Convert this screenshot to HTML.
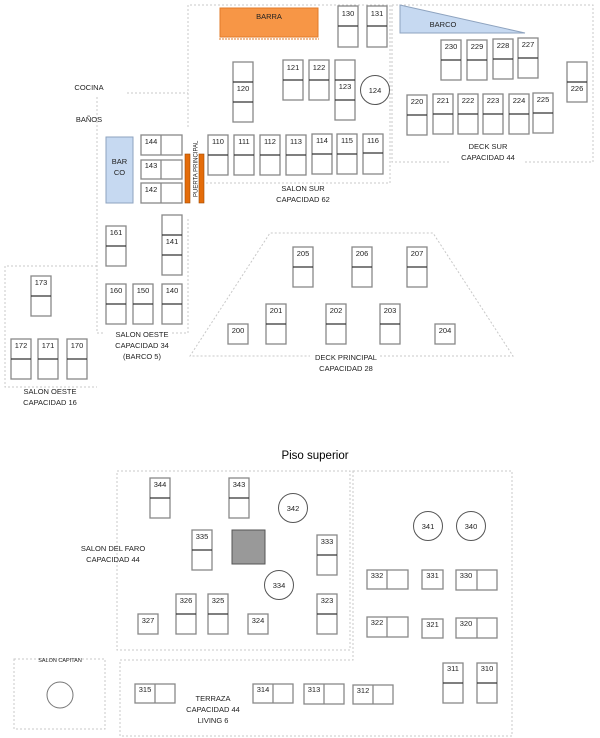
<!DOCTYPE html>
<html><head><meta charset="utf-8"><style>
html,body{margin:0;padding:0;background:#fff;}
svg{display:block;font-family:"Liberation Sans",Arial,sans-serif;}
.t{fill:none;stroke:#888;stroke-width:1.3}
.m{stroke:#333;stroke-width:1.2}
.d{fill:none;stroke:#c8c8c8;stroke-width:1;stroke-dasharray:2,2}
text{font-size:7.5px;fill:#222}
.n{text-anchor:middle}
</style></head><body>
<svg width="600" height="738" viewBox="0 0 600 738" xmlns="http://www.w3.org/2000/svg">
<path class="d" d="M188,127 V5 H390 V183 H205 M127,93 H188 M97,97 V333 H103 M172,333 H188 V217"/>
<path class="d" d="M392,5 V162 H450 M525,162 H593 V5 H392"/>
<path class="d" d="M97,266 H5 V387 H97"/>
<path class="d" d="M380,356 H513 L433,233 H270 L190,356 H310"/>
<rect x="220" y="8" width="98" height="29" fill="#f79646" stroke="#e07b2a"/>
<line x1="219" y1="39" x2="319" y2="39" stroke="#e07b2a" stroke-width="1" stroke-dasharray="2,1"/>
<text x="269" y="19" class="n">BARRA</text>
<polygon points="400,5 400,33 525,33" fill="#c6d9f1" stroke="#8ea3bf"/>
<text x="443" y="27" class="n">BARCO</text>
<rect x="106" y="137" width="27" height="66" fill="#c6d9f1" stroke="#8ea3bf"/>
<text x="119.5" y="164" class="n">BAR</text><text x="119.5" y="175" class="n">CO</text>
<rect x="185" y="154" width="5" height="49" fill="#e46c0a" stroke="#a04a00" stroke-width=".6"/>
<rect x="199" y="154" width="5" height="49" fill="#e46c0a" stroke="#a04a00" stroke-width=".6"/>
<text transform="translate(197.5,197) rotate(-90)" style="font-size:6px">PUERTA PRINCIPAL</text>

<text x="89" y="90" class="n">COCINA</text>
<text x="89" y="122" class="n">BAÑOS</text>
<text x="303" y="191" class="n">SALON SUR</text><text x="303" y="202" class="n">CAPACIDAD 62</text>
<text x="488" y="149" class="n">DECK SUR</text><text x="488" y="160" class="n">CAPACIDAD 44</text>
<text x="142" y="337" class="n">SALON OESTE</text><text x="142" y="348" class="n">CAPACIDAD 34</text><text x="142" y="359" class="n">(BARCO 5)</text>
<text x="50" y="394" class="n">SALON OESTE</text><text x="50" y="405" class="n">CAPACIDAD 16</text>
<text x="346" y="360" class="n">DECK PRINCIPAL</text><text x="346" y="371" class="n">CAPACIDAD 28</text>

<g>
<rect class="t" x="338" y="6" width="20" height="41"/><line class="m" x1="338" y1="26" x2="358" y2="26"/><text x="348" y="16" class="n">130</text>
<rect class="t" x="367" y="6" width="20" height="41"/><line class="m" x1="367" y1="26" x2="387" y2="26"/><text x="377" y="16" class="n">131</text>
<rect class="t" x="283" y="60" width="20" height="40"/><line class="m" x1="283" y1="80" x2="303" y2="80"/><text x="293" y="70" class="n">121</text>
<rect class="t" x="309" y="60" width="20" height="40"/><line class="m" x1="309" y1="80" x2="329" y2="80"/><text x="319" y="70" class="n">122</text>
<rect class="t" x="233" y="62" width="20" height="60"/><line class="m" x1="233" y1="82" x2="253" y2="82"/><line class="m" x1="233" y1="102" x2="253" y2="102"/><text x="243" y="91" class="n">120</text>
<rect class="t" x="335" y="60" width="20" height="60"/><line class="m" x1="335" y1="80" x2="355" y2="80"/><line class="m" x1="335" y1="100" x2="355" y2="100"/><text x="345" y="89" class="n">123</text>
<circle cx="375" cy="90" r="14.5" fill="none" stroke="#555"/><text x="375" y="93" class="n">124</text>

<rect class="t" x="208" y="135" width="20" height="40"/><line class="m" x1="208" y1="155" x2="228" y2="155"/><text x="218" y="144" class="n">110</text>
<rect class="t" x="234" y="135" width="20" height="40"/><line class="m" x1="234" y1="155" x2="254" y2="155"/><text x="244" y="144" class="n">111</text>
<rect class="t" x="260" y="135" width="20" height="40"/><line class="m" x1="260" y1="155" x2="280" y2="155"/><text x="270" y="144" class="n">112</text>
<rect class="t" x="286" y="135" width="20" height="40"/><line class="m" x1="286" y1="155" x2="306" y2="155"/><text x="296" y="144" class="n">113</text>
<rect class="t" x="312" y="134" width="20" height="40"/><line class="m" x1="312" y1="154" x2="332" y2="154"/><text x="322" y="143" class="n">114</text>
<rect class="t" x="337" y="134" width="20" height="40"/><line class="m" x1="337" y1="154" x2="357" y2="154"/><text x="347" y="143" class="n">115</text>
<rect class="t" x="363" y="134" width="20" height="40"/><line class="m" x1="363" y1="153" x2="383" y2="153"/><text x="373" y="143" class="n">116</text>

<rect class="t" x="141" y="135" width="41" height="20"/><line class="t" x1="161" y1="135" x2="161" y2="155"/><text x="151" y="144" class="n">144</text>
<rect class="t" x="141" y="160" width="41" height="19"/><line class="t" x1="161" y1="160" x2="161" y2="179"/><text x="151" y="168" class="n">143</text>
<rect class="t" x="141" y="183" width="41" height="20"/><line class="t" x1="161" y1="183" x2="161" y2="203"/><text x="151" y="192" class="n">142</text>

<rect class="t" x="441" y="40" width="20" height="40"/><line class="m" x1="441" y1="60" x2="461" y2="60"/><text x="451" y="49" class="n">230</text>
<rect class="t" x="467" y="40" width="20" height="40"/><line class="m" x1="467" y1="60" x2="487" y2="60"/><text x="477" y="49" class="n">229</text>
<rect class="t" x="493" y="39" width="20" height="40"/><line class="m" x1="493" y1="59" x2="513" y2="59"/><text x="503" y="48" class="n">228</text>
<rect class="t" x="518" y="38" width="20" height="40"/><line class="m" x1="518" y1="58" x2="538" y2="58"/><text x="528" y="47" class="n">227</text>
<rect class="t" x="567" y="62" width="20" height="40"/><line class="m" x1="567" y1="82" x2="587" y2="82"/><text x="577" y="91" class="n">226</text>
<rect class="t" x="407" y="95" width="20" height="40"/><line class="m" x1="407" y1="115" x2="427" y2="115"/><text x="417" y="104" class="n">220</text>
<rect class="t" x="433" y="94" width="20" height="40"/><line class="m" x1="433" y1="114" x2="453" y2="114"/><text x="443" y="103" class="n">221</text>
<rect class="t" x="458" y="94" width="20" height="40"/><line class="m" x1="458" y1="114" x2="478" y2="114"/><text x="468" y="103" class="n">222</text>
<rect class="t" x="483" y="94" width="20" height="40"/><line class="m" x1="483" y1="114" x2="503" y2="114"/><text x="493" y="103" class="n">223</text>
<rect class="t" x="509" y="94" width="20" height="40"/><line class="m" x1="509" y1="114" x2="529" y2="114"/><text x="519" y="103" class="n">224</text>
<rect class="t" x="533" y="93" width="20" height="40"/><line class="m" x1="533" y1="113" x2="553" y2="113"/><text x="543" y="102" class="n">225</text>

<rect class="t" x="106" y="226" width="20" height="40"/><line class="m" x1="106" y1="246" x2="126" y2="246"/><text x="116" y="235" class="n">161</text>
<rect class="t" x="162" y="215" width="20" height="60"/><line class="m" x1="162" y1="235" x2="182" y2="235"/><line class="m" x1="162" y1="255" x2="182" y2="255"/><text x="172" y="244" class="n">141</text>
<rect class="t" x="106" y="284" width="20" height="40"/><line class="m" x1="106" y1="304" x2="126" y2="304"/><text x="116" y="293" class="n">160</text>
<rect class="t" x="133" y="284" width="20" height="40"/><line class="m" x1="133" y1="304" x2="153" y2="304"/><text x="143" y="293" class="n">150</text>
<rect class="t" x="162" y="284" width="20" height="40"/><line class="m" x1="162" y1="304" x2="182" y2="304"/><text x="172" y="293" class="n">140</text>
<rect class="t" x="31" y="276" width="20" height="40"/><line class="m" x1="31" y1="296" x2="51" y2="296"/><text x="41" y="285" class="n">173</text>
<rect class="t" x="11" y="339" width="20" height="40"/><line class="m" x1="11" y1="359" x2="31" y2="359"/><text x="21" y="348" class="n">172</text>
<rect class="t" x="38" y="339" width="20" height="40"/><line class="m" x1="38" y1="359" x2="58" y2="359"/><text x="48" y="348" class="n">171</text>
<rect class="t" x="67" y="339" width="20" height="40"/><line class="m" x1="67" y1="359" x2="87" y2="359"/><text x="77" y="348" class="n">170</text>

<rect class="t" x="293" y="247" width="20" height="40"/><line class="m" x1="293" y1="267" x2="313" y2="267"/><text x="303" y="256" class="n">205</text>
<rect class="t" x="352" y="247" width="20" height="40"/><line class="m" x1="352" y1="267" x2="372" y2="267"/><text x="362" y="256" class="n">206</text>
<rect class="t" x="407" y="247" width="20" height="40"/><line class="m" x1="407" y1="267" x2="427" y2="267"/><text x="417" y="256" class="n">207</text>
<rect class="t" x="266" y="304" width="20" height="40"/><line class="m" x1="266" y1="324" x2="286" y2="324"/><text x="276" y="313" class="n">201</text>
<rect class="t" x="326" y="304" width="20" height="40"/><line class="m" x1="326" y1="324" x2="346" y2="324"/><text x="336" y="313" class="n">202</text>
<rect class="t" x="380" y="304" width="20" height="40"/><line class="m" x1="380" y1="324" x2="400" y2="324"/><text x="390" y="313" class="n">203</text>
<rect class="t" x="228" y="324" width="20" height="20"/><text x="238" y="333" class="n">200</text>
<rect class="t" x="435" y="324" width="20" height="20"/><text x="445" y="333" class="n">204</text>
</g>

<text x="315" y="459" class="n" style="font-size:11.5px;fill:#000">Piso superior</text>

<path class="d" d="M117,471 H350 V650 H117 Z"/>
<path class="d" d="M353,471 H512 V736 H120 V660 H353 Z"/>
<rect class="d" x="14" y="659" width="91" height="70"/>
<text x="60" y="662" class="n" style="font-size:5.5px">SALON CAPITAN</text>
<circle cx="60" cy="695" r="13" fill="none" stroke="#777"/>

<text x="113" y="551" class="n">SALON DEL FARO</text><text x="113" y="562" class="n">CAPACIDAD 44</text>
<text x="213" y="701" class="n">TERRAZA</text><text x="213" y="712" class="n">CAPACIDAD 44</text><text x="213" y="723" class="n">LIVING 6</text>

<rect class="t" x="150" y="478" width="20" height="40"/><line class="m" x1="150" y1="498" x2="170" y2="498"/><text x="160" y="487" class="n">344</text>
<rect class="t" x="229" y="478" width="20" height="40"/><line class="m" x1="229" y1="498" x2="249" y2="498"/><text x="239" y="487" class="n">343</text>
<circle cx="293" cy="508" r="14.5" fill="none" stroke="#555"/><text x="293" y="511" class="n">342</text>
<rect class="t" x="192" y="530" width="20" height="40"/><line class="m" x1="192" y1="550" x2="212" y2="550"/><text x="202" y="539" class="n">335</text>
<rect x="232" y="530" width="33" height="34" fill="#999" stroke="#555"/>
<rect class="t" x="317" y="535" width="20" height="40"/><line class="m" x1="317" y1="555" x2="337" y2="555"/><text x="327" y="544" class="n">333</text>
<circle cx="279" cy="585" r="14.5" fill="none" stroke="#555"/><text x="279" y="588" class="n">334</text>
<rect class="t" x="176" y="594" width="20" height="40"/><line class="m" x1="176" y1="614" x2="196" y2="614"/><text x="186" y="603" class="n">326</text>
<rect class="t" x="208" y="594" width="20" height="40"/><line class="m" x1="208" y1="614" x2="228" y2="614"/><text x="218" y="603" class="n">325</text>
<rect class="t" x="317" y="594" width="20" height="40"/><line class="m" x1="317" y1="614" x2="337" y2="614"/><text x="327" y="603" class="n">323</text>
<rect class="t" x="138" y="614" width="20" height="20"/><text x="148" y="623" class="n">327</text>
<rect class="t" x="248" y="614" width="20" height="20"/><text x="258" y="623" class="n">324</text>

<circle cx="428" cy="526" r="14.5" fill="none" stroke="#555"/><text x="428" y="529" class="n">341</text>
<circle cx="471" cy="526" r="14.5" fill="none" stroke="#555"/><text x="471" y="529" class="n">340</text>
<rect class="t" x="367" y="570" width="41" height="19"/><line class="t" x1="387" y1="570" x2="387" y2="589"/><text x="377" y="578" class="n">332</text>
<rect class="t" x="422" y="570" width="21" height="19"/><text x="432.5" y="578" class="n">331</text>
<rect class="t" x="456" y="570" width="41" height="20"/><line class="t" x1="477" y1="570" x2="477" y2="590"/><text x="466" y="578" class="n">330</text>
<rect class="t" x="367" y="617" width="41" height="20"/><line class="t" x1="387" y1="617" x2="387" y2="637"/><text x="377" y="625" class="n">322</text>
<rect class="t" x="422" y="619" width="21" height="19"/><text x="432.5" y="627" class="n">321</text>
<rect class="t" x="456" y="618" width="41" height="20"/><line class="t" x1="477" y1="618" x2="477" y2="638"/><text x="466" y="626" class="n">320</text>
<rect class="t" x="443" y="663" width="20" height="40"/><line class="m" x1="443" y1="683" x2="463" y2="683"/><text x="453" y="671" class="n">311</text>
<rect class="t" x="477" y="663" width="20" height="40"/><line class="m" x1="477" y1="683" x2="497" y2="683"/><text x="487" y="671" class="n">310</text>

<rect class="t" x="135" y="684" width="40" height="19"/><line class="t" x1="155" y1="684" x2="155" y2="703"/><text x="145" y="692" class="n">315</text>
<rect class="t" x="253" y="684" width="40" height="19"/><line class="t" x1="273" y1="684" x2="273" y2="703"/><text x="263" y="692" class="n">314</text>
<rect class="t" x="304" y="684" width="40" height="20"/><line class="t" x1="324" y1="684" x2="324" y2="704"/><text x="314" y="692" class="n">313</text>
<rect class="t" x="353" y="685" width="40" height="19"/><line class="t" x1="373" y1="685" x2="373" y2="704"/><text x="363" y="693" class="n">312</text>
</svg>
</body></html>
